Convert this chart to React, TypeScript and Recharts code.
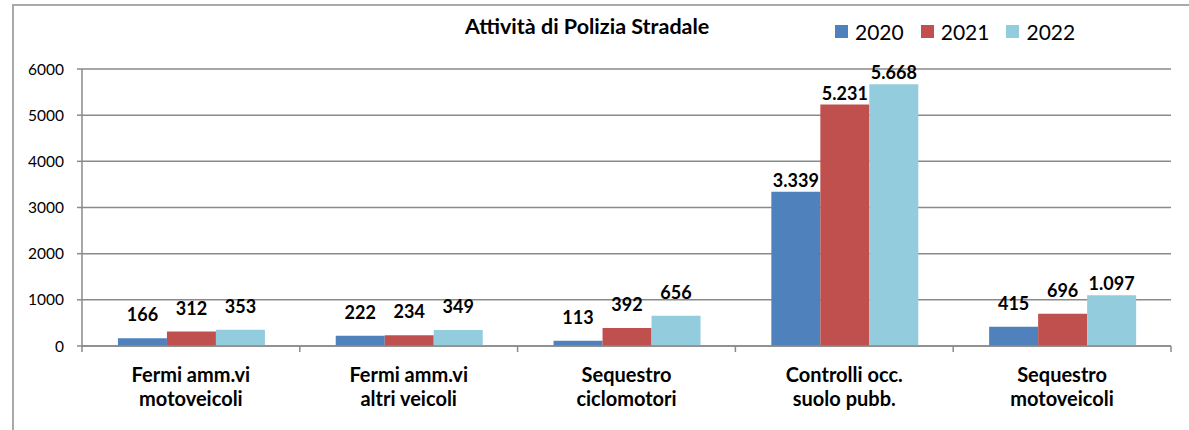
import React from "react";
import {
  Bar,
  BarChart,
  CartesianGrid,
  LabelList,
  Legend,
  XAxis,
  YAxis,
} from "recharts";

const categories = [
  "Fermi amm.vi\nmotoveicoli",
  "Fermi amm.vi\naltri veicoli",
  "Sequestro\nciclomotori",
  "Controlli occ.\nsuolo pubb.",
  "Sequestro\nmotoveicoli",
];
const values2020 = [166, 222, 113, 3339, 415];
const values2021 = [312, 234, 392, 5231, 696];
const values2022 = [353, 349, 656, 5668, 1097];
const yTicks = [0, 1000, 2000, 3000, 4000, 5000, 6000];

const series = [
  { key: "y2020", name: "2020", color: "#4F81BD" },
  { key: "y2021", name: "2021", color: "#C0504D" },
  { key: "y2022", name: "2022", color: "#93CDDD" },
];

const data = categories.map((name, i) => ({
  name,
  y2020: values2020[i],
  y2021: values2021[i],
  y2022: values2022[i],
}));

const FONT = "Lato, 'Open Sans', sans-serif";
const GRID = "#8a8a8a";

// 1097 -> "1.097"
const fmt = (v: number) => String(v).replace(/\B(?=(\d{3})+(?!\d))/g, ".");

const renderLabel = (props: any) => {
  const { x, y, width, value } = props;
  const off = Number(value) < 1000 ? 17 : 5;
  return (
    <text
      x={Number(x) + Number(width) / 2}
      y={Number(y) - off}
      textAnchor="middle"
      fontFamily={FONT}
      fontWeight={700}
      fontSize={18}
      fill="#000"
    >
      {fmt(Number(value))}
    </text>
  );
};

const CategoryTick = (props: any) => {
  const { x, y, payload, index, visibleTicksCount } = props;
  const half = payload.offset ?? 0;
  const lines = String(payload.value).split("\n");
  return (
    <g>
      <line x1={x - half} x2={x - half} y1={y} y2={y + 6} stroke={GRID} strokeWidth={1.5} />
      {index === visibleTicksCount - 1 && (
        <line x1={x + half} x2={x + half} y1={y} y2={y + 6} stroke={GRID} strokeWidth={1.5} />
      )}
      <text
        x={x}
        y={y + 36}
        textAnchor="middle"
        fontFamily={FONT}
        fontWeight={700}
        fontSize={20}
        fill="#000"
      >
        {lines.map((l, i) => (
          <tspan key={i} x={x} dy={i === 0 ? 0 : 24}>
            {l}
          </tspan>
        ))}
      </text>
    </g>
  );
};

const LegendContent = () => (
  <div style={{ display: "flex", alignItems: "center", fontFamily: FONT, fontSize: 21, lineHeight: "25px" }}>
    {series.map((s) => (
      <div key={s.key} style={{ display: "flex", alignItems: "center", marginRight: 17 }}>
        <span style={{ width: 13, height: 13, background: s.color, display: "inline-block", marginRight: 7 }} />
        <span style={{ color: "#000" }}>{s.name}</span>
      </div>
    ))}
  </div>
);

export default function App() {
  return (
    <div
      style={{
        position: "absolute",
        left: 0,
        top: 0,
        width: 1189,
        height: 430,
        overflow: "hidden",
        background: "#fff",
      }}
    >
      <div
        style={{
          position: "absolute",
          left: 12,
          top: 4,
          width: 1200,
          height: 450,
          border: "2px solid #a9a9a9",
        }}
      />
      <div
        style={{
          position: "absolute",
          left: 465,
          top: 13,
          fontFamily: FONT,
          fontWeight: 700,
          fontSize: 21.5,
          lineHeight: "26px",
          color: "#000",
          whiteSpace: "nowrap",
        }}
      >
        Attività di Polizia Stradale
      </div>
      <div style={{ position: "absolute", left: 0, top: 0 }}>
        <BarChart
          width={1189}
          height={430}
          data={data}
          margin={{ top: 44, right: 18, left: 0, bottom: 24 }}
          barCategoryGap="16.5%"
          barGap={0}
        >
          <CartesianGrid vertical={false} stroke={GRID} strokeWidth={1.5} />
          <XAxis
            dataKey="name"
            height={60}
            interval={0}
            tickLine={false}
            tickSize={0}
            tickMargin={0}
            axisLine={{ stroke: GRID, strokeWidth: 1.5 }}
            tick={<CategoryTick />}
          />
          <YAxis
            width={82}
            domain={[0, 6000]}
            ticks={yTicks}
            interval={0}
            tickSize={5}
            tickMargin={13}
            tickLine={{ stroke: GRID, strokeWidth: 1.5 }}
            axisLine={{ stroke: GRID, strokeWidth: 1.5 }}
            tick={{ fontFamily: FONT, fontSize: 15.5, fill: "#000" }}
          />
          <Legend
            verticalAlign="top"
            align="left"
            height={25}
            content={<LegendContent />}
            wrapperStyle={{ top: 19, left: 835, width: 300 }}
          />
          {series.map((s) => (
            <Bar
              key={s.key}
              dataKey={s.key}
              name={s.name}
              fill={s.color}
              isAnimationActive={false}
            >
              <LabelList dataKey={s.key} content={renderLabel} />
            </Bar>
          ))}
        </BarChart>
      </div>
    </div>
  );
}
